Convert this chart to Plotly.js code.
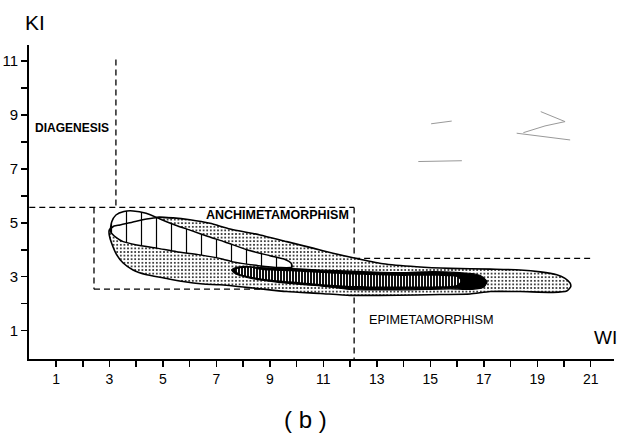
<!DOCTYPE html>
<html>
<head>
<meta charset="utf-8">
<script src="https://cdn.plot.ly/plotly-3.0.1.min.js"></script>
<style>html,body{margin:0;padding:0;background:#fff;}#chart{width:622px;height:437px;}</style>
</head>
<body>
<div id="chart"></div>
<script>
// ---- data (WI = x, KI = y) ----
var xTickVals = [1,2,3,4,5,6,7,8,9,10,11,12,13,14,15,16,17,18,19,20,21];
var xTickText = ['1','','3','','5','','7','','9','','11','','13','','15','','17','','19','','21'];
var yTickVals = [1,2,3,4,5,6,7,8,9,10,11];
var yTickText = ['1','','3','','5','','7','','9','','11'];

// zone boundaries (dashed)
var diagX = [3.24, 3.24];        var diagY = [11.05, 5.57];
var anchTopX = [0, 12.15];       var anchTopY = [5.57, 5.57];
var anchLeftX = [2.42, 2.42];    var anchLeftY = [5.57, 2.54];
var anchBotX = [2.42, 12.15];    var anchBotY = [2.54, 2.54];
var epiVX = [12.15, 12.15];      var epiVY = [5.57, -0.05];
var epiHX = [12.15, 21.09];      var epiHY = [3.68, 3.68];

// outer stippled envelope
var envX = [2.99,3.17,3.39,3.88,4.39,4.81,5.38,6.01,6.76,7.51,8.63,9.63,10.61,11.36,12.11,13.23,14.49,15.74,17.24,18.36,19.11,19.73,20.04,20.23,20.25,20.10,19.59,18.36,17.24,16.49,15.36,14.49,13.12,11.99,10.88,9.63,8.37,7.13,6.50,5.75,5.00,4.39,3.88,3.51,3.27,3.08,2.99,2.99];
var envY = [4.73,4.88,4.92,5.03,5.14,5.20,5.18,5.11,4.98,4.77,4.55,4.30,4.06,3.87,3.70,3.48,3.37,3.31,3.28,3.25,3.18,3.07,2.94,2.76,2.63,2.47,2.42,2.45,2.45,2.36,2.34,2.32,2.31,2.31,2.38,2.45,2.58,2.70,2.73,2.82,2.96,3.07,3.25,3.51,3.81,4.24,4.55,4.73];

// part of the envelope's upper edge that shows through the hatched field
var envEdgeX = [2.99,3.17,3.39,3.88,4.39,4.81,5.38];
var envEdgeY = [4.73,4.88,4.92,5.03,5.14,5.20,5.18];

// hatched field (vertical lines)
var hatX = [3.04,3.08,3.24,3.54,3.88,4.37,4.89,5.45,6.09,6.69,7.32,8.14,9.00,9.57,9.79,9.83,9.37,8.57,7.57,7.25,6.39,5.51,4.77,4.02,3.51,3.27,3.04];
var hatY = [4.67,5.03,5.29,5.42,5.44,5.35,5.14,4.92,4.70,4.49,4.29,4.00,3.78,3.64,3.51,3.36,3.34,3.41,3.56,3.65,3.81,3.93,4.06,4.18,4.30,4.44,4.67];

// black field
var blkX = [7.57,7.73,8.07,8.63,9.63,10.88,12.19,13.87,15.10,16.11,16.56,16.90,17.12,17.01,16.56,15.74,13.87,11.99,10.88,9.63,8.63,8.07,7.73,7.57];
var blkY = [3.25,3.34,3.38,3.34,3.31,3.25,3.20,3.15,3.19,3.15,3.12,3.03,2.82,2.63,2.53,2.55,2.51,2.53,2.66,2.76,2.88,2.99,3.10,3.25];

// densely ruled core
var coreX = [7.70,7.88,8.26,8.71,9.75,11.25,12.37,13.87,15.36,16.00,16.15,15.96,14.62,13.12,11.99,10.88,9.75,8.82,8.26,7.88,7.70];
var coreY = [3.25,3.31,3.33,3.25,3.20,3.12,3.07,3.03,3.03,2.99,2.84,2.68,2.64,2.64,2.66,2.73,2.83,2.92,3.01,3.10,3.25];

// faint erased marks in the scan
var markX = [15.03,15.80,null,14.55,15.36,16.18,null,19.13,20.04,19.29,18.48,null,18.23,20.23];
var markY = [8.67,8.77,null,7.27,7.29,7.30,null,9.12,8.75,8.59,8.34,null,8.32,8.07];

var zoneLabels = ['DIAGENESIS','ANCHIMETAMORPHISM','EPIMETAMORPHISM'];
var zoneLabelX = [0.14, 9.30, 15.06];
var zoneLabelY = [8.50, 5.29, 1.40];

// ---- traces ----
function dashed(x, y) {
  return {x: x, y: y, mode: 'lines', type: 'scatter', hoverinfo: 'skip',
          line: {color: '#000', width: 1.3, dash: '6px,4px'}};
}
var traces = [
  dashed(diagX, diagY), dashed(anchTopX, anchTopY), dashed(anchLeftX, anchLeftY),
  dashed(anchBotX, anchBotY), dashed(epiVX, epiVY), dashed(epiHX, epiHY),
  {x: markX, y: markY, mode: 'lines', type: 'scatter', hoverinfo: 'skip',
   line: {color: '#999', width: 1}},
  {x: envX, y: envY, mode: 'lines', type: 'scatter', fill: 'toself', hoverinfo: 'skip',
   line: {color: '#000', width: 1.6, shape: 'spline', smoothing: 0.6},
   fillcolor: '#fff',
   fillpattern: {shape: '.', fgcolor: '#000', bgcolor: '#fff', size: 3.6, solidity: 0.2}},
  {x: hatX, y: hatY, mode: 'lines', type: 'scatter', fill: 'toself', hoverinfo: 'skip',
   line: {color: '#000', width: 1.5, shape: 'spline', smoothing: 0.6},
   fillcolor: '#fff',
   fillpattern: {shape: '|', fgcolor: '#000', bgcolor: '#fff', size: 15, solidity: 0.08}},
  {x: envEdgeX, y: envEdgeY, mode: 'lines', type: 'scatter', hoverinfo: 'skip',
   line: {color: '#000', width: 1.5, shape: 'spline', smoothing: 0.6}},
  {x: blkX, y: blkY, mode: 'lines', type: 'scatter', fill: 'toself', hoverinfo: 'skip',
   line: {color: '#000', width: 1.2, shape: 'spline', smoothing: 0.6},
   fillcolor: '#000'},
  {x: coreX, y: coreY, mode: 'lines', type: 'scatter', fill: 'toself', hoverinfo: 'skip',
   line: {color: '#000', width: 0, shape: 'spline', smoothing: 0.6},
   fillcolor: '#000',
   fillpattern: {shape: '|', fgcolor: '#fff', bgcolor: '#111', size: 3, solidity: 0.35}}
];

var labelSizes = [12, 12.5, 12.7];
var annotations = zoneLabels.map(function (t, i) {
  return {x: zoneLabelX[i], y: zoneLabelY[i], xref: 'x', yref: 'y', text: t, showarrow: false,
          xanchor: i === 0 ? 'left' : 'center', yanchor: 'middle',
          font: {family: 'Liberation Sans, Arial, sans-serif', size: labelSizes[i],
                 color: '#000', weight: i === 2 ? 'normal' : 'bold'}};
});
annotations.push(
  {xref: 'paper', yref: 'paper', x: -0.0103, y: 1.073, text: 'KI', showarrow: false,
   xanchor: 'left', yanchor: 'middle', font: {family: 'Liberation Sans, Arial, sans-serif', size: 21, color: '#000'}},
  {xref: 'paper', yref: 'paper', x: 0.985, y: 0.070, text: 'WI', showarrow: false,
   xanchor: 'center', yanchor: 'middle', font: {family: 'Liberation Sans, Arial, sans-serif', size: 19, color: '#000'}},
  {xref: 'paper', yref: 'paper', x: 0.4735, y: -0.194, text: '( b )', showarrow: false,
   xanchor: 'center', yanchor: 'middle', font: {family: 'Liberation Sans, Arial, sans-serif', size: 24, color: '#000'}}
);

var layout = {
  width: 622, height: 437,
  margin: {l: 29, r: 8, t: 45, b: 78, pad: 0},
  paper_bgcolor: '#fff', plot_bgcolor: '#fff',
  showlegend: false,
  font: {family: 'Liberation Sans, Arial, sans-serif', color: '#000'},
  xaxis: {range: [-0.011, 21.87], showline: true, linewidth: 2, linecolor: '#000',
          ticks: 'outside', ticklen: 6, tickwidth: 1.5, tickcolor: '#000',
          tickvals: xTickVals, ticktext: xTickText, showgrid: false, zeroline: false,
          tickfont: {size: 14}, fixedrange: true},
  yaxis: {range: [-0.05, 11.59], showline: true, linewidth: 2, linecolor: '#000',
          ticks: 'outside', ticklen: 6, tickwidth: 1.5, tickcolor: '#000',
          tickvals: yTickVals, ticktext: yTickText, showgrid: false, zeroline: false,
          tickfont: {size: 15}, fixedrange: true},
  annotations: annotations
};

Plotly.newPlot('chart', traces, layout, {staticPlot: true, displayModeBar: false});
</script>
</body>
</html>
